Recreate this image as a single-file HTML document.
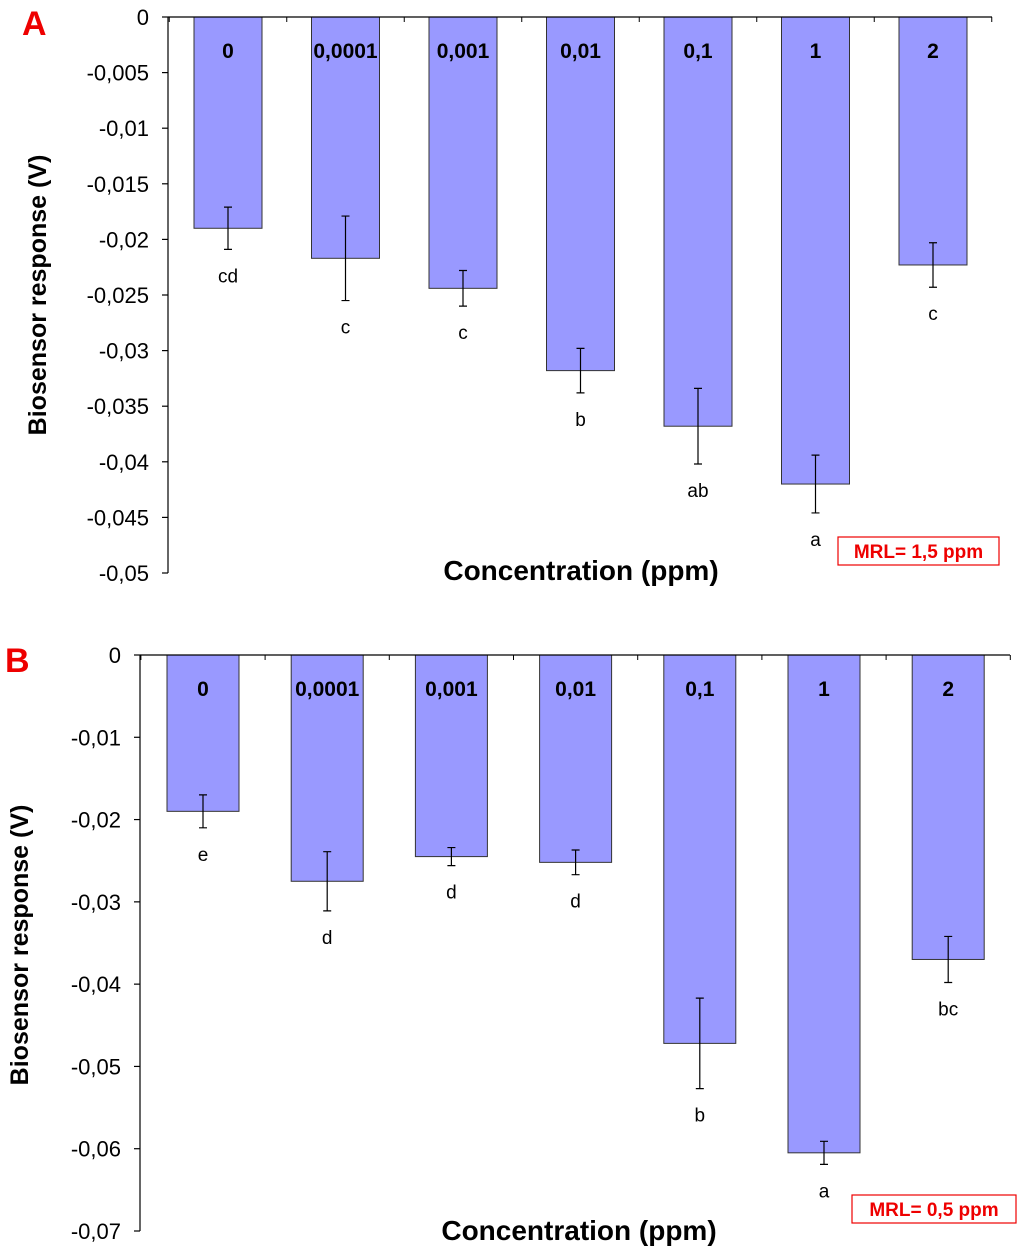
<!DOCTYPE html>
<html><head><meta charset="utf-8"><style>
html,body{margin:0;padding:0;background:#fff;}
svg{display:block;font-family:"Liberation Sans",Arial,sans-serif;}
</style></head><body>
<svg id="chart" width="1024" height="1254" viewBox="0 0 1024 1254"></svg>
<script>
const categories = ["0","0,0001","0,001","0,01","0,1","1","2"];
const valuesA = [-0.0190,-0.0217,-0.0244,-0.0318,-0.0368,-0.0420,-0.0223];
const errorsA = [0.0019,0.0038,0.0016,0.0020,0.0034,0.0026,0.0020];
const lettersA = ["cd","c","c","b","ab","a","c"];
const ticksA = [0,-0.005,-0.01,-0.015,-0.02,-0.025,-0.03,-0.035,-0.04,-0.045,-0.05];
const tickLabelsA = ["0","-0,005","-0,01","-0,015","-0,02","-0,025","-0,03","-0,035","-0,04","-0,045","-0,05"];
const valuesB = [-0.0190,-0.0275,-0.0245,-0.0252,-0.0472,-0.0605,-0.0370];
const errorsB = [0.0020,0.0036,0.0011,0.0015,0.0055,0.0014,0.0028];
const lettersB = ["e","d","d","d","b","a","bc"];
const ticksB = [0,-0.01,-0.02,-0.03,-0.04,-0.05,-0.06,-0.07];
const tickLabelsB = ["0","-0,01","-0,02","-0,03","-0,04","-0,05","-0,06","-0,07"];

const svg = document.getElementById('chart');
const NS = 'http://www.w3.org/2000/svg';
function mk(tag, attrs, parent, text){
  const e = document.createElementNS(NS, tag);
  for (const k in attrs) e.setAttribute(k, attrs[k]);
  if (text !== undefined) e.textContent = text;
  (parent||svg).appendChild(e);
  return e;
}

function panel(cfg){
  const g = mk('g', {});
  
  
  const y = v => cfg.y0 + (v / cfg.min) * (cfg.y1 - cfg.y0);
  const x = i => cfg.xFirst + i * cfg.step;
  categories.forEach((c, i) => {
    const v = cfg.values[i], e = cfg.errors[i];
    const b = mk('rect', {x: x(i) - cfg.bw/2, y: cfg.y0, width: cfg.bw, height: y(v) - cfg.y0, fill: '#9999ff', stroke: '#333', 'stroke-width': 1}, g);
    
    
    const el = mk('path', {d: `M${x(i)} ${y(v-e)}V${y(v+e)}M${x(i)-4} ${y(v-e)}h8M${x(i)-4} ${y(v+e)}h8`, stroke: '#000', 'stroke-width': 1.2, fill: 'none'}, g);
    
    
    const lab = mk('text', {x: x(i), y: cfg.y0 + 41, 'text-anchor': 'middle', 'font-size': 21, 'font-weight': 'bold'}, g, c);
    
    
    const lt = mk('text', {x: x(i), y: y(v-e) + 33, 'text-anchor': 'middle', 'font-size': 19}, g, cfg.letters[i]);
    
    
  });
  const ax = mk('path', {d: `M${cfg.ax} ${cfg.y0}H${cfg.right}M${cfg.ax} ${cfg.y0}V${cfg.y1}`, stroke: '#000', 'stroke-width': 1.2, fill: 'none'}, g);
  
  
  cfg.ticks.forEach((t, i) => {
    mk('line', {x1: cfg.ax - 6, x2: cfg.ax, y1: y(t), y2: y(t), stroke: '#000', 'stroke-width': 1.2}, g);
    const tl = mk('text', {x: cfg.ax - 19, y: y(t) + 8, 'text-anchor': 'end', 'font-size': 22}, g, cfg.tickLabels[i]);
    
    
  });
  for (let i = 0; i <= categories.length; i++) {
    const tx = x(i) - cfg.step/2;
    mk('line', {x1: tx, x2: tx, y1: cfg.y0, y2: cfg.y0 + 5, stroke: '#000', 'stroke-width': 1}, g);
  }
  const yt = mk('text', {x: 0, y: 0, transform: `translate(${cfg.ytx},${cfg.yty}) rotate(-90)`, 'text-anchor': 'middle', 'font-size': 25, 'font-weight': 'bold'}, g, 'Biosensor response (V)');
  
  
  const xt = mk('text', {x: cfg.xtx, y: cfg.xty, 'text-anchor': 'middle', 'font-size': 28, 'font-weight': 'bold'}, g, 'Concentration (ppm)');
  
  
  const bx = mk('rect', {x: cfg.mrl[0], y: cfg.mrl[1], width: cfg.mrl[2], height: 28, fill: '#fff', stroke: '#e00', 'stroke-width': 1.2}, g);
  
  
  const mt = mk('text', {x: cfg.mrl[0] + cfg.mrl[2]/2, y: cfg.mrl[1] + 21, 'text-anchor': 'middle', 'font-size': 19, 'font-weight': 'bold', fill: '#e00'}, g, cfg.mrlText);
  
  
  const pl = mk('text', {x: cfg.pl[0], y: cfg.pl[1], 'font-size': 34, 'font-weight': 'bold', fill: '#e00'}, g, cfg.id);
  
  
}

panel({id:'A', values:valuesA, errors:errorsA, letters:lettersA, ticks:ticksA, tickLabels:tickLabelsA,
  min:-0.05, y0:17, y1:573, ax:168, right:992, xFirst:228, step:117.5, bw:68,
  ytx:46, yty:295, xtx:581, xty:580, mrl:[838,537,161], mrlText:'MRL= 1,5 ppm', pl:[22,35]});
panel({id:'B', values:valuesB, errors:errorsB, letters:lettersB, ticks:ticksB, tickLabels:tickLabelsB,
  min:-0.07, y0:655, y1:1231, ax:140, right:1010, xFirst:203, step:124.2, bw:72,
  ytx:28, yty:945, xtx:579, xty:1240, mrl:[852,1195,164], mrlText:'MRL= 0,5 ppm', pl:[5,672]});
</script>
</body></html>
